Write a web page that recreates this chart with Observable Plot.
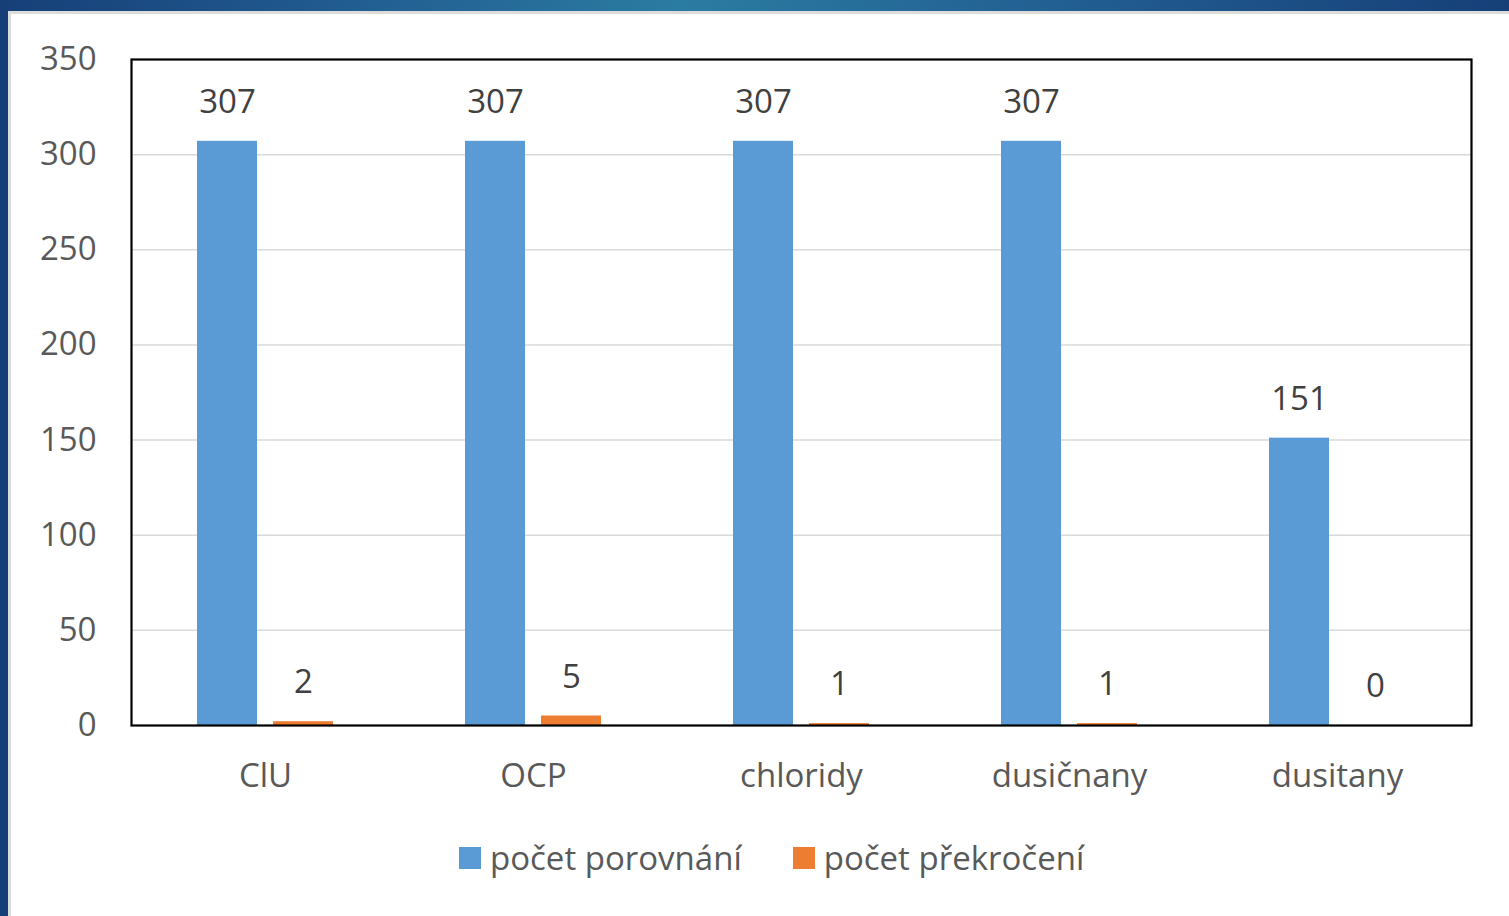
<!DOCTYPE html>
<html>
<head>
<meta charset="utf-8">
<script src="https://cdn.jsdelivr.net/npm/d3@7"></script>
<script src="https://cdn.jsdelivr.net/npm/@observablehq/plot@0.6"></script>
<style>
  html, body { margin: 0; padding: 0; }
  body { width: 1509px; height: 916px; overflow: hidden; position: relative;
         background: linear-gradient(90deg, #163f78 0%, #225f92 25%, #2b7ca2 45%, #225f92 70%, #163f78 100%); }
  #sheet { position: absolute; left: 8px; top: 11px; width: 1501px; height: 905px; background: #fff;
           border-top: 3px solid #dcdcdc; border-left: 3px solid #dcdcdc; box-sizing: border-box; }
  #chart { position: absolute; left: 0; top: 0; }
  #legend { position: absolute; left: 459px; top: 835px; display: flex; align-items: center;
            font-family: "Open Sans", sans-serif; font-size: 33px; color: #595959; }
  .item { display: flex; align-items: center; margin-right: 51px; }
  .sw { width: 22px; height: 22px; margin-right: 9px; }
</style>
</head>
<body>
<div id="sheet"></div>
<div id="chart"></div>
<div id="legend"></div>
<script>
const categories = ["ClU", "OCP", "chloridy", "dusičnany", "dusitany"];
const series = ["počet porovnání", "počet překročení"];
const porovnani = [307, 307, 307, 307, 151];
const prekroceni = [2, 5, 1, 1, 0];
const yTicks = [0, 50, 100, 150, 200, 250, 300, 350];
const colors = ["#5B9BD5", "#ED7D31"];

const data = categories.flatMap((c, i) => [
  {category: c, series: series[0], value: porovnani[i]},
  {category: c, series: series[1], value: prekroceni[i]}
]);

const chart = Plot.plot({
  width: 1509,
  height: 810,
  marginLeft: 130,
  marginRight: 37,
  marginTop: 59,
  marginBottom: 85,
  style: {background: "transparent", fontFamily: "'Open Sans', sans-serif", color: "#595959"},
  fx: {domain: categories, padding: 0, label: null, axis: null},
  x: {domain: series, paddingInner: 0.2105, paddingOuter: 0.85, axis: null},
  y: {domain: [0, 350], label: null},
  color: {domain: series, range: colors},
  marks: [
    Plot.gridY(yTicks, {stroke: "#d9d9d9", strokeOpacity: 1, strokeWidth: 1.5}),
    Plot.barY(data, {fx: "category", x: "series", y: "value", fill: "series"}),
    Plot.text(data, {fx: "category", x: "series", y: "value", text: d => String(d.value),
                     dy: -39, fontSize: 33, fill: "#404040"}),
    Plot.axisY(yTicks, {tickSize: 0, tickPadding: 35, fontSize: 33, label: null, fill: "#595959"}),
    Plot.axisFx({anchor: "bottom", tickSize: 0, tickPadding: 38, fontSize: 33, label: null, fill: "#595959"}),
    Plot.frame({facet: "super", stroke: "#000", strokeWidth: 2.2})
  ]
});
document.getElementById("chart").appendChild(chart);

const legend = document.getElementById("legend");
series.forEach((s, i) => {
  const item = document.createElement("div");
  item.className = "item";
  const sw = document.createElement("div");
  sw.className = "sw";
  sw.style.background = colors[i];
  const t = document.createElement("span");
  t.textContent = s;
  item.appendChild(sw);
  item.appendChild(t);
  legend.appendChild(item);
});
</script>
</body>
</html>
